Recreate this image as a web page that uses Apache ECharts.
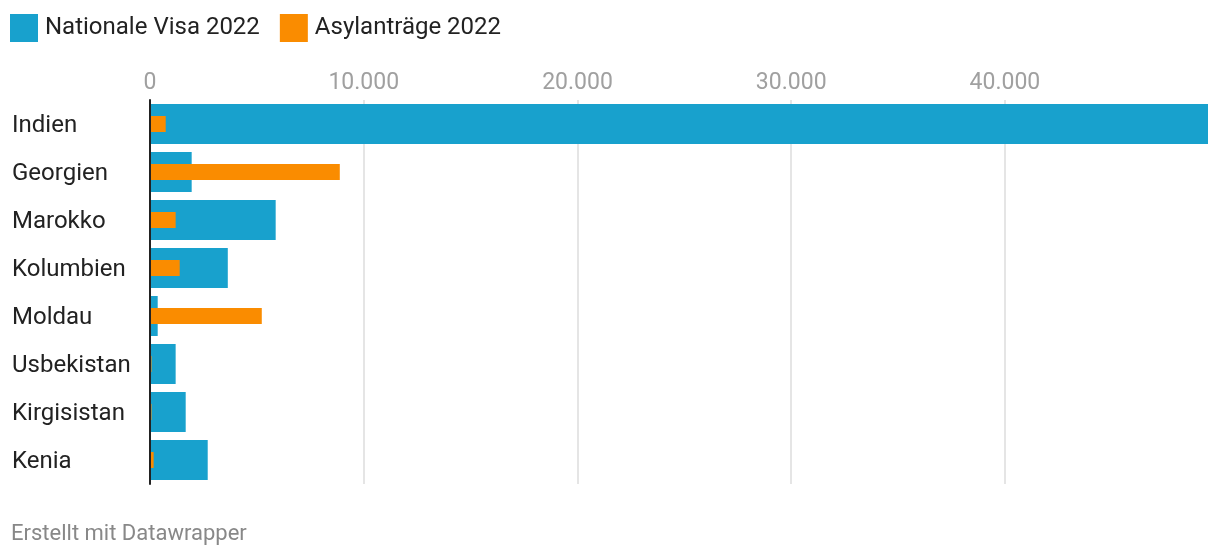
<!DOCTYPE html>
<html>
<head>
<meta charset="utf-8">
<script src="https://cdn.jsdelivr.net/npm/echarts@6/dist/echarts.min.js"></script>
<style>
html,body{margin:0;padding:0;background:#fff;}
#c{width:1220px;height:558px;}
</style>
</head>
<body>
<div id="c"></div>
<script>
const categories = ['Indien','Georgien','Marokko','Kolumbien','Moldau','Usbekistan','Kirgisistan','Kenia'];
const visaValues = [49500, 1950, 5880, 3640, 360, 1200, 1670, 2700];
const asylValues = [735, 8880, 1200, 1390, 5230, 70, 70, 170];
const seriesNames = ['Nationale Visa 2022', 'Asylanträge 2022'];
const axisMax = 49500;
const tickStep = 10000;

const fontFam = 'Roboto, "Noto Sans", sans-serif';
function fmt(v){ return String(v).replace(/\B(?=(\d{3})+(?!\d))/g, '.'); }

const chart = echarts.init(document.getElementById('c'), null, {renderer:'canvas'});
chart.setOption({
  animation: false,
  textStyle: {fontFamily: fontFam},
  legend: {
    left: 5, top: 9,
    icon: 'rect', itemWidth: 28, itemHeight: 28, itemGap: 20,
    textStyle: {fontSize: 24, color: '#222', fontFamily: fontFam, padding: [0,0,0,2]},
    data: seriesNames
  },
  grid: {left: 150, right: 12, top: 100, height: 384, containLabel: false},
  xAxis: {
    type: 'value', position: 'top', min: 0, max: axisMax, interval: tickStep,
    axisLine: {show: false}, axisTick: {show: false},
    splitLine: {show: true, showMinLine: false, showMaxLine: false, lineStyle: {color: '#e5e5e5', width: 2}},
    axisLabel: {
      margin: 5, fontSize: 23, color: '#a0a0a0', fontFamily: fontFam, showMaxLabel: false,
      formatter: v => (v % tickStep === 0 ? fmt(v) : '')
    }
  },
  yAxis: [{
    type: 'category', data: categories, inverse: true, z: 10,
    axisLine: {show: true, lineStyle: {color: '#222', width: 2}},
    axisTick: {show: false},
    axisLabel: {
      align: 'left', margin: 138, fontSize: 24, color: '#222', fontFamily: fontFam,
      formatter: v => '{a|' + v + '}',
      rich: {a: {fontSize: 24, color: '#222', fontFamily: fontFam, padding: [3,0,0,0]}}
    }
  },{
    type: 'category', data: categories, inverse: true, show: false
  }],
  series: [{
    name: seriesNames[0], type: 'bar', yAxisIndex: 0, barWidth: 40,
    itemStyle: {color: '#18a1cd'}, data: visaValues
  },{
    name: seriesNames[1], type: 'bar', yAxisIndex: 1, barWidth: 16,
    itemStyle: {color: '#fa8c00'}, data: asylValues
  }],
  graphic: [{
    type: 'text', left: 11, top: 523,
    style: {text: 'Erstellt mit Datawrapper', fontSize: 22, fill: '#888', fontFamily: fontFam}
  }]
});
</script>
</body>
</html>
